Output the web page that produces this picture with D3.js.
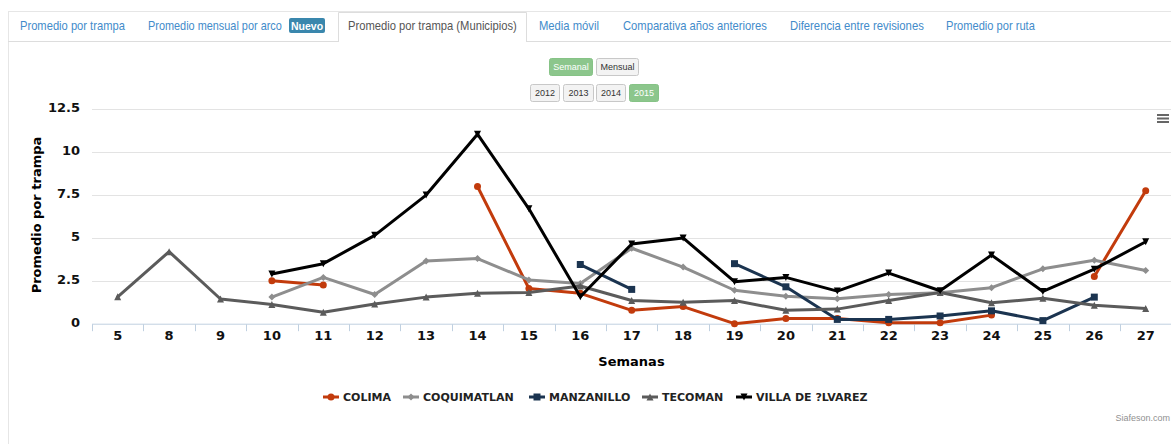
<!DOCTYPE html>
<html>
<head>
<meta charset="utf-8">
<script src="https://cdn.jsdelivr.net/npm/d3@7"></script>
<style>
  body { margin: 0; background: #fff; }
  svg { display: block; }
</style>
</head>
<body>
<svg id="chart" width="1171" height="444"></svg>
<script>
// categories (semanas) and the five municipios, null = no data that week
const weeks = ["5","8","9","10","11","12","13","14","15","16","17","18","19","20","21","22","23","24","25","26","27"];
const colima      = [null,null,null,2.5,2.25,null,null,8.0,2.05,1.77,0.78,1.0,0,0.3,0.3,0.05,0.05,0.5,null,2.75,7.75];
const coquimatlan = [null,null,null,1.55,2.7,1.7,3.65,3.8,2.55,2.35,4.4,3.3,1.95,1.6,1.45,1.7,1.8,2.1,3.2,3.7,3.1];
const manzanillo  = [null,null,null,null,null,null,null,null,null,3.45,2.0,null,3.5,2.15,0.25,0.25,0.45,0.75,0.18,1.55,null];
const tecoman     = [1.57,4.2,1.44,1.12,0.67,1.15,1.55,1.77,1.82,2.2,1.35,1.25,1.35,0.78,0.85,1.35,1.82,1.22,1.48,1.07,0.88];
const villa       = [null,null,null,2.9,3.5,5.15,7.5,11.05,6.7,1.57,4.65,5.0,2.45,2.7,1.9,2.95,1.92,4.0,1.88,3.18,4.78];
const yTicks = [0, 2.5, 5, 7.5, 10, 12.5];

const tabs = ["Promedio por trampa", "Promedio mensual por arco", "Promedio por trampa (Municipios)",
              "Media móvil", "Comparativa años anteriores", "Diferencia entre revisiones", "Promedio por ruta"];
const periods = ["Semanal", "Mensual"];
const years = ["2012", "2013", "2014", "2015"];

const series = [
  { name: "COLIMA", data: colima, color: "#c23b0c", symbol: "circle" },
  { name: "COQUIMATLAN", data: coquimatlan, color: "#8e8e8e", symbol: "diamond" },
  { name: "MANZANILLO", data: manzanillo, color: "#1b3450", symbol: "square" },
  { name: "TECOMAN", data: tecoman, color: "#5b5b5b", symbol: "triangle" },
  { name: "VILLA DE ?LVAREZ", data: villa, color: "#000000", symbol: "triangle-down" }
];

const svg = d3.select("#chart");
const chartFont = "'DejaVu Sans', Verdana, sans-serif";
const uiFont = "'Liberation Sans', Arial, sans-serif";

// ---- tab bar ----
const tabX = [20, 148, 348, 539, 623, 790, 946];
const tabW = [105, 134, 169, 60, 144, 134, 89];
svg.append("line").attr("x1", 8).attr("x2", 1171).attr("y1", 11.5).attr("y2", 11.5).attr("stroke", "#e6e6e6");
svg.append("line").attr("x1", 8.5).attr("x2", 8.5).attr("y1", 11).attr("y2", 444).attr("stroke", "#e6e6e6");
svg.append("line").attr("x1", 8).attr("x2", 338).attr("y1", 41.5).attr("y2", 41.5).attr("stroke", "#ddd");
svg.append("line").attr("x1", 527).attr("x2", 1171).attr("y1", 41.5).attr("y2", 41.5).attr("stroke", "#ddd");
svg.append("path").attr("d", "M338.5,42V12.5H526.5V42").attr("fill", "none").attr("stroke", "#ddd");

// the page font is narrower than Liberation Sans: squeeze each label to its width
svg.selectAll("text.tab")
  .data(tabs)
  .join("text")
  .attr("class", "tab")
  .attr("font-family", uiFont)
  .attr("font-size", 13)
  .attr("fill", (d, i) => i === 2 ? "#555" : "#428bca")
  .text(d => d)
  .attr("transform", function (d, i) {
    const w = this.getComputedTextLength();
    return "translate(" + tabX[i] + ",30) scale(" + (tabW[i] / w) + ",1)";
  });

// "Nuevo" badge
svg.append("rect").attr("x", 289).attr("y", 18).attr("width", 36).attr("height", 15).attr("rx", 2).attr("fill", "#3a87ad");
svg.append("text").attr("x", 307).attr("y", 29.5).attr("text-anchor", "middle")
  .attr("font-family", uiFont).attr("font-size", 10.5).attr("font-weight", "bold").attr("fill", "#fff").text("Nuevo");

// ---- period / year buttons ----
function buttonRow(labels, xs, ws, y, active) {
  const g = svg.append("g");
  labels.forEach(function (lab, i) {
    const on = lab === active;
    g.append("rect")
      .attr("x", xs[i] + 0.5).attr("y", y + 0.5)
      .attr("width", ws[i]).attr("height", 17).attr("rx", 2)
      .attr("fill", on ? "#8cc68c" : "#f3f3f3")
      .attr("stroke", on ? "#86c386" : "#c8c8c8");
    g.append("text")
      .attr("x", xs[i] + ws[i] / 2 + 0.5).attr("y", y + 12)
      .attr("text-anchor", "middle")
      .attr("font-family", uiFont).attr("font-size", 9)
      .attr("fill", on ? "#fff" : "#333")
      .text(lab);
  });
}
buttonRow(periods, [549, 596], [43, 42], 58, "Semanal");
buttonRow(years, [530, 563, 596, 629], [29, 30, 29, 29], 84, "2015");

// ---- chart ----
const plot = { left: 92, right: 1171.4, top: 109.3, bottom: 323.7 };

const x = d3.scaleBand().domain(weeks).range([plot.left, plot.right]);
const y = d3.scaleLinear().domain([0, 12.5]).range([plot.bottom, plot.top]);

// grid
svg.append("g")
  .selectAll("line")
  .data(yTicks.filter(d => d > 0))
  .join("line")
  .attr("x1", plot.left).attr("x2", plot.right)
  .attr("y1", d => Math.round(y(d)) + 0.5).attr("y2", d => Math.round(y(d)) + 0.5)
  .attr("stroke", "#e3e3e3");

// y labels
svg.append("g")
  .selectAll("text")
  .data(yTicks)
  .join("text")
  .attr("x", 80).attr("y", d => y(d) + 3)
  .attr("text-anchor", "end")
  .attr("font-family", chartFont).attr("font-size", 13).attr("font-weight", "bold")
  .attr("fill", "#111")
  .text(d => d);

svg.append("text")
  .attr("transform", "translate(41," + 215 + ") rotate(-90)")
  .attr("text-anchor", "middle")
  .attr("font-family", chartFont).attr("font-size", 13).attr("font-weight", "bold")
  .attr("fill", "#000")
  .text("Promedio por trampa");

// x axis: line, ticks between categories, labels
const xAxis = d3.axisBottom(x).tickSize(0).tickPadding(7);
const gx = svg.append("g").attr("transform", "translate(0," + (plot.bottom + 0.5) + ")").call(xAxis);
gx.select(".domain").attr("stroke", "#c0d0e0").attr("d", "M" + plot.left + ",0H" + plot.right);
gx.selectAll("text")
  .attr("font-family", chartFont).attr("font-size", 13).attr("font-weight", "bold").attr("fill", "#111");

gx.append("g")
  .selectAll("line")
  .data(weeks)
  .join("line")
  .attr("x1", d => Math.round(x(d)) + 0.5).attr("x2", d => Math.round(x(d)) + 0.5)
  .attr("y1", 0).attr("y2", 7)
  .attr("stroke", "#c0d0e0");

svg.append("text")
  .attr("x", (plot.left + 1171) / 2).attr("y", 366)
  .attr("text-anchor", "middle")
  .attr("font-family", chartFont).attr("font-size", 13).attr("font-weight", "bold")
  .attr("fill", "#000")
  .text("Semanas");

function markerPath(type, r) {
  if (type === "circle") return d3.symbol(d3.symbolCircle, Math.PI * r * r)();
  if (type === "square") return "M" + (-r) + "," + (-r) + "H" + r + "V" + r + "H" + (-r) + "Z";
  if (type === "diamond") return "M0," + (-r) + "L" + r + ",0L0," + r + "L" + (-r) + ",0Z";
  if (type === "triangle") return "M0," + (-r) + "L" + r + "," + r + "L" + (-r) + "," + r + "Z";
  return "M" + (-r) + "," + (-r) + "L" + r + "," + (-r) + "L0," + r + "Z";
}

const cx = i => x(weeks[i]) + x.bandwidth() / 2;

const line = d3.line()
  .defined(d => d != null)
  .x((d, i) => cx(i))
  .y(d => y(d));

const gSeries = svg.append("g")
  .selectAll("g")
  .data(series)
  .join("g");

gSeries.append("path")
  .attr("d", d => line(d.data))
  .attr("fill", "none")
  .attr("stroke", d => d.color)
  .attr("stroke-width", 3)
  .attr("stroke-linejoin", "round")
  .attr("stroke-linecap", "round");

gSeries.each(function (s) {
  d3.select(this).selectAll("path.marker")
    .data(s.data.map((v, i) => ({ v: v, i: i })).filter(d => d.v != null))
    .join("path")
    .attr("class", "marker")
    .attr("transform", d => "translate(" + cx(d.i) + "," + y(d.v) + ")")
    .attr("d", markerPath(s.symbol, 3.5))
    .attr("fill", s.color);
});

// legend
const legendX = [323, 403, 529, 642, 736];
const legend = svg.append("g")
  .selectAll("g")
  .data(series)
  .join("g")
  .attr("transform", (d, i) => "translate(" + legendX[i] + ",397)");

legend.append("line")
  .attr("x1", 0).attr("x2", 16).attr("y1", 0).attr("y2", 0)
  .attr("stroke", d => d.color).attr("stroke-width", 3);
legend.append("path")
  .attr("transform", "translate(8,0)")
  .attr("d", d => markerPath(d.symbol, 3.5))
  .attr("fill", d => d.color);
legend.append("text")
  .attr("x", 20).attr("y", 4)
  .attr("font-family", chartFont).attr("font-size", 11).attr("font-weight", "bold")
  .attr("fill", "#222")
  .text(d => d.name);

// export menu icon
svg.append("g")
  .selectAll("rect")
  .data([0, 1, 2])
  .join("rect")
  .attr("x", 1157).attr("y", d => 114 + d * 3.5)
  .attr("width", 12).attr("height", 2)
  .attr("fill", "#666");

svg.append("text")
  .attr("x", 1170).attr("y", 421)
  .attr("text-anchor", "end")
  .attr("font-family", uiFont).attr("font-size", 9)
  .attr("fill", "#909090")
  .text("Siafeson.com");
</script>
</body>
</html>
